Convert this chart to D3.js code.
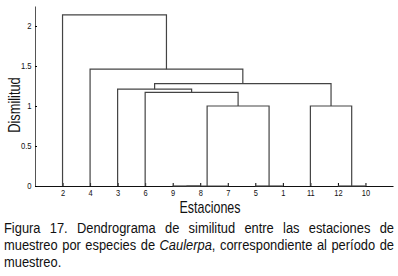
<!DOCTYPE html>
<html>
<head>
<meta charset="utf-8">
<script src="https://cdn.jsdelivr.net/npm/d3@7"></script>
<style>
  body { margin: 0; background: #fff; }
  svg { display: block; }
  text { font-family: "Liberation Sans", Arial, sans-serif; fill: #111; }
</style>
</head>
<body>
<div id="chart"></div>
<script>
// leaf order along the x axis
var leaves = ["2", "4", "3", "6", "9", "8", "7", "5", "1", "11", "12", "10"];

// merges: left child, right child, height ("nK" = result of merge K)
var mergeLeft   = ["9", "n0", "5", "12", "n1", "11", "6",  "3",  "n7", "4",  "2"];
var mergeRight  = ["8", "7",  "1", "10", "n2", "n3", "n4", "n6", "n5", "n8", "n9"];
var mergeHeight = [0,   0,    0,   0,    1.0,  1.0,  1.17, 1.21, 1.28, 1.46, 2.14];

var yTicks = [0, 0.5, 1, 1.5, 2];

var captionLines = [
    "Figura 17. Dendrograma de similitud entre las estaciones de",
    "muestreo por especies de *Caulerpa*, correspondiente al período de",
    "muestreo."
];

var width = 398, height = 276;
var margin = { top: 6, right: 5, bottom: 90, left: 35 };
var narrow = 0.86; // squeeze Liberation Sans to look like Arial Narrow

var svg = d3.select("#chart").append("svg")
    .attr("width", width)
    .attr("height", height);

var x = d3.scalePoint()
    .domain(leaves)
    .range([margin.left, width - margin.right])
    .padding(1);

var y = d3.scaleLinear()
    .domain([0, 2.25])
    .range([height - margin.bottom, margin.top]);

// axes
var xAxis = svg.append("g")
    .attr("transform", "translate(0," + y(0) + ")")
    .attr("font-family", null)
    .call(d3.axisBottom(x).tickSizeInner(-3).tickSizeOuter(0).tickPadding(4));
xAxis.select(".domain").attr("stroke", "#111").attr("stroke-width", 1.2);
xAxis.selectAll("text")
    .style("font-size", "8.5px")
    .attr("transform", "scale(0.88,1)");

var yAxis = svg.append("g")
    .attr("transform", "translate(" + margin.left + ",0)")
    .call(d3.axisLeft(y).tickValues(yTicks).tickFormat(d3.format("")).tickSizeInner(-2).tickSizeOuter(0).tickPadding(4));
yAxis.select(".domain").attr("stroke", "#555");
yAxis.selectAll("text")
    .style("font-size", "9px")
    .attr("transform", "scale(0.85,1)");
yAxis.attr("font-family", null);
xAxis.attr("font-family", null);

// dendrogram links
var pos = {};
leaves.forEach(function(l) { pos[l] = { x: x(l), h: 0 }; });

var links = svg.append("g")
    .attr("fill", "none")
    .attr("stroke", "#444")
    .attr("stroke-width", 1.2);

mergeHeight.forEach(function(h, i) {
    var a = pos[mergeLeft[i]], b = pos[mergeRight[i]];
    links.append("path")
        .attr("d", "M" + a.x + "," + y(a.h) + "V" + y(h) + "H" + b.x + "V" + y(b.h));
    pos["n" + i] = { x: (a.x + b.x) / 2, h: h };
});

// axis titles
svg.append("text")
    .attr("transform", "translate(210,212.5) scale(0.78,1)")
    .attr("text-anchor", "middle")
    .style("font-size", "16px")
    .text("Estaciones");

svg.append("text")
    .attr("transform", "translate(20,105) rotate(-90) scale(0.8,1)")
    .attr("text-anchor", "middle")
    .style("font-size", "16px")
    .text("Dismilitud");

// caption, justified like the source
var cap = svg.append("g").style("font-size", "15px");
var capLeft = 4, capRight = 394;
captionLines.forEach(function(line, li) {
    var yy = 233 + li * 17;
    var words = line.split(" ");
    var nodes = words.map(function(w) {
        var t = cap.append("text");
        var m = w.match(/^\*(.*)\*(.*)$/);
        if (m) {
            t.append("tspan").style("font-style", "italic").text(m[1]);
            t.append("tspan").text(m[2]);
        } else {
            t.text(w);
        }
        return t;
    });
    var widths = nodes.map(function(t) { return t.node().getComputedTextLength() * narrow; });
    var total = d3.sum(widths);
    var last = li === captionLines.length - 1;
    var gap = last ? 3.5 : (capRight - capLeft - total) / (words.length - 1);
    var cx = capLeft;
    nodes.forEach(function(t, i) {
        t.attr("transform", "translate(" + cx + "," + yy + ") scale(" + narrow + ",1)");
        cx += widths[i] + gap;
    });
});
</script>
</body>
</html>
